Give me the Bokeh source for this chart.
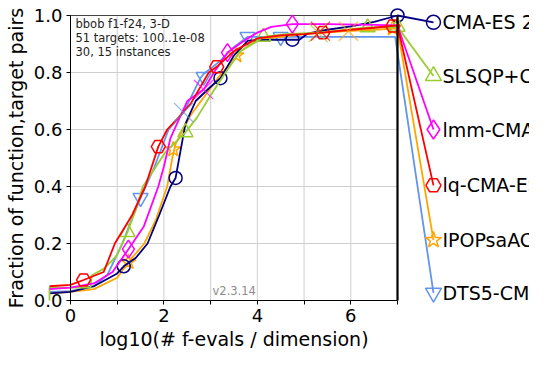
from bokeh.plotting import figure
from bokeh.models import Range1d, LinearAxis, FixedTicker, PrintfTickFormatter
from bokeh.embed import file_html
from bokeh.resources import INLINE
from bokeh.core.properties import value

FONT = "DejaVu Sans"

# ---------------- data ----------------
names = ["CMA-ES 2019", "SLSQP+CMA", "lmm-CMA-ES", "lq-CMA-ES", "IPOPsaACM", "DTS5-CMA-ES"]
colors = ["#000080", "#9ACD32", "#FF00FF", "#FF0000", "#FFA500", "#6495ED"]
markers = ["circle", "triangle", "diamond", "hex", "star", "inverted_triangle"]

cma_x = [-0.45, 0.0, 0.5, 1.0, 1.14, 1.4, 1.65, 1.9, 2.14, 2.25, 2.46, 2.68, 3.0, 3.21, 3.5, 3.8, 4.3, 4.9, 5.07, 5.5, 6.0, 6.5, 7.0]
cma_y = [0.025, 0.03, 0.05, 0.095, 0.12, 0.15, 0.2, 0.3, 0.4, 0.43, 0.62, 0.7, 0.75, 0.78, 0.86, 0.912, 0.915, 0.915, 0.936, 0.95, 0.962, 0.978, 1.0]

slsqp_x = [-0.45, -0.45, 0.43, 0.45, 0.7, 0.86, 1.0, 1.22, 1.4, 1.55, 2.03, 2.46, 2.7, 3.0, 3.36, 3.64, 4.0, 4.13, 4.6, 5.3, 6.36, 7.0]
slsqp_y = [0.0, 0.045, 0.045, 0.088, 0.11, 0.135, 0.16, 0.24, 0.32, 0.4, 0.52, 0.59, 0.64, 0.72, 0.81, 0.875, 0.91, 0.925, 0.935, 0.94, 0.958, 0.96]

lmm_x = [-0.45, 0.0, 0.5, 0.9, 1.24, 1.57, 1.88, 2.0, 2.14, 2.5, 2.85, 3.07, 3.36, 3.7, 4.0, 4.3, 4.75, 5.5, 6.5, 7.0]
lmm_y = [0.04, 0.045, 0.06, 0.1, 0.18, 0.26, 0.4, 0.47, 0.57, 0.7, 0.74, 0.8, 0.87, 0.91, 0.94, 0.96, 0.97, 0.97, 0.967, 0.965]

lq_x = [-0.45, 0.0, 0.28, 0.71, 0.95, 1.32, 1.6, 1.88, 2.07, 2.3, 2.57, 2.96, 3.13, 3.5, 4.0, 4.5, 5.0, 5.4, 6.0, 6.5, 7.0]
lq_y = [0.05, 0.055, 0.072, 0.1, 0.2, 0.3, 0.4, 0.54, 0.6, 0.64, 0.69, 0.8, 0.82, 0.875, 0.92, 0.93, 0.935, 0.94, 0.95, 0.957, 0.965]

ipop_x = [-0.45, 0.0, 0.5, 1.0, 1.24, 1.58, 1.82, 2.07, 2.18, 2.25, 2.57, 2.93, 3.2, 3.43, 3.64, 4.0, 4.5, 5.0, 5.9, 6.5, 7.0]
ipop_y = [0.025, 0.03, 0.04, 0.08, 0.135, 0.2, 0.28, 0.4, 0.5, 0.55, 0.65, 0.73, 0.79, 0.83, 0.875, 0.915, 0.925, 0.935, 0.945, 0.95, 0.955]

dts_x = [-0.45, 0.0, 0.5, 0.79, 1.11, 1.3, 1.5, 1.8, 2.1, 2.42, 2.78, 2.85, 3.2, 3.5, 3.79, 4.2, 5.0, 6.0, 6.95]
dts_y = [0.03, 0.033, 0.05, 0.09, 0.2, 0.28, 0.36, 0.47, 0.6, 0.66, 0.78, 0.795, 0.84, 0.89, 0.925, 0.925, 0.925, 0.925, 0.925]

# marker positions along the curves
cma_mx, cma_my = [1.14, 2.25, 3.21, 4.75, 7.0], [0.12, 0.43, 0.78, 0.915, 1.0]
slsqp_mx, slsqp_my = [1.22, 2.46, 4.13, 6.36, 7.0], [0.24, 0.59, 0.925, 0.958, 0.96]
lmm_mx, lmm_my = [1.24, 3.36, 4.75], [0.18, 0.87, 0.97]
lq_mx, lq_my = [0.28, 1.88, 3.13, 5.4, 6.9], [0.072, 0.54, 0.82, 0.94, 0.963]
ipop_mx, ipop_my = [1.24, 2.2, 3.55, 6.9], [0.135, 0.53, 0.86, 0.955]
dts_mx, dts_my = [1.5, 2.85, 3.79, 4.5], [0.36, 0.785, 0.925, 0.925]

# large "x" marks (budget markers)
xmark_x = [2.42, 2.85, 5.3, 5.35, 5.95]
xmark_y = [0.66, 0.74, 0.94, 0.945, 0.945]
xmark_alg = [5, 2, 1, 3, 4]

# labels on the right
label_x = 7.77
label_y = [0.976, 0.788, 0.60, 0.404, 0.212, 0.027]

x_ticks = [0, 2, 4, 6]
x_minor_ticks = [1, 3, 5, 7]
y_ticks = [0.0, 0.2, 0.4, 0.6, 0.8, 1.0]
x_grid = [1, 2, 3, 4, 5, 6]
y_grid = [0.2, 0.4, 0.6, 0.8]
x_max, y_max = 7.0, 1.0

curves = [(cma_x, cma_y, cma_mx, cma_my),
          (slsqp_x, slsqp_y, slsqp_mx, slsqp_my),
          (lmm_x, lmm_y, lmm_mx, lmm_my),
          (lq_x, lq_y, lq_mx, lq_my),
          (ipop_x, ipop_y, ipop_mx, ipop_my),
          (dts_x, dts_y, dts_mx, dts_my)]

# ---------------- figure ----------------
W, H = 529, 351
px_per_x = 46.714
x0_px = 70
y1_px, y0_px = 15, 300
px_per_y = (y0_px - y1_px)

p = figure(width=W, height=H, output_backend="svg", toolbar_location=None,
           x_axis_type=None, y_axis_type=None, min_border=0, title=None,
           x_range=Range1d(-x0_px / px_per_x, (W - x0_px) / px_per_x),
           y_range=Range1d(-(H - y0_px) / px_per_y, 1 + y1_px / px_per_y))
p.outline_line_color = None
p.background_fill_color = "white"

# grid
p.segment(x0=x_grid, y0=[0] * len(x_grid), x1=x_grid, y1=[y_max] * len(x_grid),
          line_color="#cfcfcf", line_width=1)
p.segment(x0=[0] * len(y_grid), y0=y_grid, x1=[x_max] * len(y_grid), y1=y_grid,
          line_color="#cfcfcf", line_width=1)
# top spine
p.segment(x0=[0], y0=[y_max], x1=[x_max], y1=[y_max], line_color="#444444", line_width=1)

draw_order = [5, 4, 0, 1, 2, 3]
msizes = [13, 15, 18, 14, 16, 15]
for i in draw_order:
    cx, cy, mx, my = curves[i]
    c = colors[i]
    p.line(cx + [label_x], cy + [label_y[i]], line_color=c, line_width=1.8)
    p.scatter(mx, my, marker=markers[i], size=msizes[i], fill_color=None,
              line_color=c, line_width=1.5)
    p.scatter([label_x], [label_y[i]], marker=markers[i], size=msizes[i] + 1,
              fill_color=None, line_color=c, line_width=1.5)

p.scatter(xmark_x, xmark_y, marker="x", size=27,
          line_color=[colors[k] for k in xmark_alg], line_width=1.3, line_alpha=0.7)

# vertical black line at max budget
p.segment(x0=[x_max], y0=[0], x1=[x_max], y1=[y_max], line_color="black", line_width=2.2)

# labels at right
p.text(x=[label_x] * len(names), y=label_y, text=names, x_offset=9,
       text_baseline="middle", text_align="left",
       text_font=value(FONT), text_font_size="19px", text_color="black")

# annotations
p.text(x=[0], y=[y_max], text=["bbob f1-f24, 3-D\n51 targets: 100..1e-08\n30, 15 instances"],
       x_offset=5, y_offset=1, text_baseline="top", text_align="left",
       text_line_height=1.0, text_font=value(FONT), text_font_size="11.5px",
       text_color="#222222")
p.text(x=[3.04], y=[0], text=["v2.3.14"], x_offset=0, y_offset=-3,
       text_baseline="bottom", text_align="left",
       text_font=value(FONT), text_font_size="11.5px", text_color="#8c8c8c")

# axes
def style(ax):
    ax.axis_line_color = "black"
    ax.axis_line_width = 1
    ax.major_tick_line_color = "black"
    ax.minor_tick_line_color = "black"
    ax.major_tick_in = 0
    ax.major_tick_out = 4
    ax.minor_tick_in = 0
    ax.minor_tick_out = 4
    ax.major_label_text_font = FONT
    ax.major_label_text_font_size = "18px"
    ax.major_label_text_color = "black"
    ax.major_label_standoff = 4
    ax.axis_label_text_font = FONT
    ax.axis_label_text_font_size = "19px"
    ax.axis_label_text_font_style = "normal"
    ax.axis_label_text_color = "black"
    ax.axis_label_standoff = 4

xaxis = LinearAxis(fixed_location=0, bounds=(0, x_max),
                   ticker=FixedTicker(ticks=x_ticks, minor_ticks=x_minor_ticks),
                   axis_label="log10(# f-evals / dimension)")
style(xaxis)
xaxis.axis_label_standoff = 3
p.add_layout(xaxis, "below")

yaxis = LinearAxis(fixed_location=0, bounds=(0, y_max),
                   ticker=FixedTicker(ticks=y_ticks, minor_ticks=[]),
                   formatter=PrintfTickFormatter(format="%.1f"),
                   axis_label="Fraction of function,target pairs")
style(yaxis)
p.add_layout(yaxis, "left")

open("out.html", "w").write(file_html(p, INLINE))
